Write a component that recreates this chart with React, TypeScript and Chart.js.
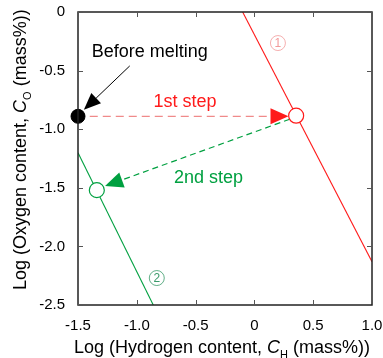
import React, { useEffect, useRef } from "react";
import { Chart, registerables } from "chart.js";

Chart.register(...registerables);

const xTicks = [-1.5, -1.0, -0.5, 0, 0.5, 1.0];
const yTicks = [0, -0.5, -1.0, -1.5, -2.0, -2.5];
const xTickLabels = ["-1.5", "-1.0", "-0.5", "0", "0.5", "1.0"];
const yTickLabels = ["0", "-0.5", "-1.0", "-1.5", "-2.0", "-2.5"];

const line1X = [-0.1, 1.0];
const line1Y = [0, -2.13];
const line2X = [-1.5, -0.86];
const line2Y = [-1.2, -2.5];

const beforeMeltingPoint = [-1.5, -0.89];
const step1Point = [0.355, -0.885];
const step2Point = [-1.34, -1.52];

// arrows: [fromX, fromY, toX, toY]
const arrowStep1 = [-1.40, -0.89, 0.29, -0.89];
const arrowStep2 = [0.30, -0.915, -1.27, -1.485];
const arrowBefore = [-1.06, -0.46, -1.45, -0.835];

// text labels: [x, y]
const labelBefore = [-0.89, -0.34];
const labelStep1 = [-0.59, -0.77];
const labelStep2 = [-0.39, -1.42];
const labelCircle1 = [0.2, -0.265];
const labelCircle2 = [-0.83, -2.27];

const RED = "#ff1a1a";
const PINK = "#f08a8a";
const GREEN = "#00a040";
const FONT = "'Liberation Sans', Arial, sans-serif";

function drawArrow(ctx: CanvasRenderingContext2D, x1: number, y1: number, x2: number, y2: number,
  lineColor: string, headColor: string, dash: number[], lw: number, headLen: number, headHalf: number) {
  const ang = Math.atan2(y2 - y1, x2 - x1);
  const bx = x2 - headLen * Math.cos(ang);
  const by = y2 - headLen * Math.sin(ang);
  ctx.save();
  ctx.strokeStyle = lineColor;
  ctx.lineWidth = lw;
  ctx.setLineDash(dash);
  ctx.beginPath();
  ctx.moveTo(x1, y1);
  ctx.lineTo(bx, by);
  ctx.stroke();
  ctx.setLineDash([]);
  ctx.fillStyle = headColor;
  ctx.beginPath();
  ctx.moveTo(x2, y2);
  ctx.lineTo(bx + headHalf * Math.sin(ang), by - headHalf * Math.cos(ang));
  ctx.lineTo(bx - headHalf * Math.sin(ang), by + headHalf * Math.cos(ang));
  ctx.closePath();
  ctx.fill();
  ctx.restore();
}

const annotPlugin = {
  id: "annot",
  beforeDatasetsDraw(chart: any) {
    const ctx = chart.ctx as CanvasRenderingContext2D;
    const xs = chart.scales.x, ys = chart.scales.y;
    const px = (v: number) => xs.getPixelForValue(v);
    const py = (v: number) => ys.getPixelForValue(v);
    drawArrow(ctx, px(arrowStep1[0]), py(arrowStep1[1]), px(arrowStep1[2]), py(arrowStep1[3]),
      PINK, RED, [8, 5], 1.2, 18, 8);
    drawArrow(ctx, px(arrowStep2[0]), py(arrowStep2[1]), px(arrowStep2[2]), py(arrowStep2[3]),
      GREEN, GREEN, [6, 4], 1.2, 18, 8);
    drawArrow(ctx, px(arrowBefore[0]), py(arrowBefore[1]), px(arrowBefore[2]), py(arrowBefore[3]),
      "#000", "#000", [], 1, 17, 7);
  },
  afterDraw(chart: any) {
    const ctx = chart.ctx as CanvasRenderingContext2D;
    const xs = chart.scales.x, ys = chart.scales.y;
    const px = (v: number) => xs.getPixelForValue(v);
    const py = (v: number) => ys.getPixelForValue(v);
    const a = chart.chartArea;
    ctx.save();
    // frame
    ctx.strokeStyle = "#222";
    ctx.lineWidth = 1.5;
    ctx.strokeRect(a.left, a.top, a.right - a.left, a.bottom - a.top);
    // inward ticks
    ctx.strokeStyle = "#555";
    ctx.lineWidth = 1;
    const tl = 5;
    xTicks.forEach((v) => {
      const x = Math.round(px(v)) + 0.5;
      ctx.beginPath();
      ctx.moveTo(x, a.bottom); ctx.lineTo(x, a.bottom - tl);
      ctx.moveTo(x, a.top); ctx.lineTo(x, a.top + tl);
      ctx.stroke();
    });
    yTicks.forEach((v) => {
      const y = Math.round(py(v)) + 0.5;
      ctx.beginPath();
      ctx.moveTo(a.left, y); ctx.lineTo(a.left + tl, y);
      ctx.moveTo(a.right, y); ctx.lineTo(a.right - tl, y);
      ctx.stroke();
    });
    // text labels
    ctx.textAlign = "center";
    ctx.textBaseline = "middle";
    ctx.font = `18px ${FONT}`;
    ctx.fillStyle = "#000";
    ctx.fillText("Before melting", px(labelBefore[0]), py(labelBefore[1]));
    ctx.fillStyle = RED;
    ctx.fillText("1st step", px(labelStep1[0]), py(labelStep1[1]));
    ctx.fillStyle = GREEN;
    ctx.fillText("2nd step", px(labelStep2[0]), py(labelStep2[1]));
    // circled numbers
    const circ = (pos: number[], txt: string, color: string) => {
      const cx = px(pos[0]), cy = py(pos[1]);
      ctx.strokeStyle = color;
      ctx.lineWidth = 0.8;
      ctx.beginPath();
      ctx.arc(cx, cy, 7.5, 0, Math.PI * 2);
      ctx.stroke();
      ctx.fillStyle = color;
      ctx.font = `12px ${FONT}`;
      ctx.fillText(txt, cx, cy + 0.5);
    };
    circ(labelCircle1, "1", "#f29a9a");
    circ(labelCircle2, "2", "#3a9a6a");
    // axis titles (left-anchored)
    const drawTitle = (parts: { t: string; style: string; sub?: boolean }[], size: number) => {
      const fontFor = (p: any) => `${p.style} ${p.sub ? 11 : size}px ${FONT}`;
      let x = 0;
      ctx.textAlign = "left";
      ctx.textBaseline = "alphabetic";
      parts.forEach((p) => {
        ctx.font = fontFor(p);
        ctx.fillText(p.t, x, p.sub ? 5 : 0);
        x += ctx.measureText(p.t).width;
      });
    };
    ctx.fillStyle = "#000";
    ctx.save();
    ctx.translate(74, 353);
    drawTitle([
      { t: "Log (Hydrogen content, ", style: "normal" },
      { t: "C", style: "italic" },
      { t: "H", style: "normal", sub: true },
      { t: " (mass%))", style: "normal" },
    ], 18);
    ctx.restore();
    ctx.save();
    ctx.translate(26, 290);
    ctx.rotate(-Math.PI / 2);
    drawTitle([
      { t: "Log (Oxygen content, ", style: "normal" },
      { t: "C", style: "italic" },
      { t: "O", style: "normal", sub: true },
      { t: " (mass%))", style: "normal" },
    ], 18);
    ctx.restore();
    ctx.restore();
  },
};

export default function App() {
  const ref = useRef<HTMLCanvasElement | null>(null);
  useEffect(() => {
    document.body.style.margin = "0";
    const canvas = ref.current!;
    const chart = new Chart(canvas, {
      type: "scatter",
      data: {
        datasets: [
          {
            label: "Before melting",
            data: [{ x: beforeMeltingPoint[0], y: beforeMeltingPoint[1] }],
            pointRadius: 7,
            backgroundColor: "#000",
            borderColor: "#000",
            order: 0,
            clip: 20,
          },
          {
            label: "1st step",
            data: [{ x: step1Point[0], y: step1Point[1] }],
            pointRadius: 7.5,
            backgroundColor: "#fff",
            borderColor: RED,
            borderWidth: 1.2,
            order: 0,
          },
          {
            label: "2nd step",
            data: [{ x: step2Point[0], y: step2Point[1] }],
            pointRadius: 7.5,
            backgroundColor: "#fff",
            borderColor: GREEN,
            borderWidth: 1.2,
            order: 0,
          },
          {
            label: "Line 1",
            data: line1X.map((x, i) => ({ x, y: line1Y[i] })),
            showLine: true,
            pointRadius: 0,
            borderColor: RED,
            borderWidth: 1.1,
            order: 2,
          },
          {
            label: "Line 2",
            data: line2X.map((x, i) => ({ x, y: line2Y[i] })),
            showLine: true,
            pointRadius: 0,
            borderColor: GREEN,
            borderWidth: 1.1,
            order: 2,
          },
        ],
      },
      options: {
        responsive: false,
        animation: false,
        layout: { padding: { top: 12, right: 11, left: 0, bottom: 0 } },
        plugins: { legend: { display: false }, tooltip: { enabled: false } },
        scales: {
          x: {
            type: "linear",
            min: -1.5,
            max: 1.0,
            afterBuildTicks: (s: any) => { s.ticks = xTicks.map((v) => ({ value: v })); },
            afterFit: (s: any) => { s.height = 53; s.paddingLeft = 0; s.paddingRight = 0; },
            ticks: {
              callback: (v: any) => xTickLabels[xTicks.indexOf(Number(v))] ?? "",
              font: { family: FONT, size: 15 },
              color: "#000",
              padding: 12,
              maxRotation: 0,
            },
            grid: { display: false, drawTicks: false },
            border: { display: false },
          },
          y: {
            type: "linear",
            min: -2.5,
            max: 0,
            afterBuildTicks: (s: any) => { s.ticks = yTicks.map((v) => ({ value: v })); },
            afterFit: (s: any) => { s.width = 78; s.paddingTop = 0; s.paddingBottom = 0; },
            ticks: {
              callback: (v: any) => yTickLabels[yTicks.indexOf(Number(v))] ?? "",
              font: { family: FONT, size: 15 },
              color: "#000",
              padding: 13,
            },
            grid: { display: false, drawTicks: false },
            border: { display: false },
          },
        },
      },
      plugins: [annotPlugin],
    });
    return () => chart.destroy();
  }, []);
  return <canvas ref={ref} width={383} height={358} style={{ display: "block", width: 383, height: 358 }} />;
}
